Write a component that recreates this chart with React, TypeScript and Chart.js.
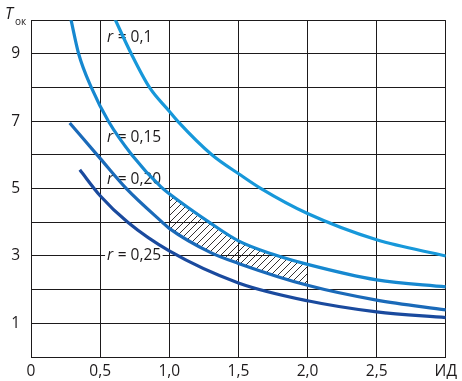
import React, { useEffect, useRef } from 'react';
import { Chart, registerables } from 'chart.js';

Chart.register(...registerables);

// ---- data ----
const xTickLabels = ['0', '0,5', '1,0', '1,5', '2,0', '2,5', 'ИД'];
const yTickLabels = ['', '1', '', '3', '', '5', '', '7', '', '9', ''];
const seriesNames = ['r = 0,1', 'r = 0,15', 'r = 0,20', 'r = 0,25'];
const seriesColors = ['#1798da', '#1688d0', '#1a6ab9', '#1a4a9e'];

const r010X = [0.6, 0.726, 0.858, 1.0, 1.062, 1.31, 1.51, 1.664, 2.0, 2.5, 3.0];
const r010T = [10.1, 9.0, 8.0, 7.3, 7.0, 6.0, 5.42, 5.0, 4.26, 3.48, 3.0];
const r015X = [0.285, 0.345, 0.437, 0.56, 0.73, 0.94, 1.0, 1.29, 1.5, 1.75, 2.0, 2.5, 3.0];
const r015T = [10.1, 9.0, 8.0, 7.0, 6.0, 5.05, 4.85, 4.0, 3.45, 3.05, 2.75, 2.29, 2.08];
const r020X = [0.28, 0.5, 0.69, 0.95, 1.0, 1.3, 1.5, 2.0, 2.5, 3.0];
const r020T = [6.95, 5.9, 5.0, 4.0, 3.82, 3.1, 2.78, 2.13, 1.69, 1.4];
const r025X = [0.353, 0.5, 0.7, 1.0, 1.5, 2.0, 2.5, 3.0];
const r025T = [5.56, 4.79, 4.0, 3.15, 2.2, 1.67, 1.34, 1.17];

// hatched zone between r = 0,15 and r = 0,20
const hatchRange = [1.0, 2.0];
// label anchors (data coords: left x, centre T)
const labelX = [0.55, 0.55, 0.55, 0.55];
const labelT = [9.5, 6.53, 5.27, 3.0];

const FONT = '"Open Sans", "Noto Sans", sans-serif';
const INK = '#1d1a1b';

const pts = (xs: number[], ts: number[]) => xs.map((x, i) => ({ x, y: ts[i] }));
const inRange = (p: { x: number }) => p.x >= hatchRange[0] && p.x <= hatchRange[1];

function makeHatch(): CanvasPattern | string {
  const c = document.createElement('canvas');
  const s = 7;
  c.width = s;
  c.height = s;
  const g = c.getContext('2d');
  if (!g) return 'rgba(0,0,0,0.2)';
  g.strokeStyle = INK;
  g.lineWidth = 0.9;
  g.beginPath();
  g.moveTo(0, s);
  g.lineTo(s, 0);
  g.moveTo(-1, 1);
  g.lineTo(1, -1);
  g.moveTo(s - 1, s + 1);
  g.lineTo(s + 1, s - 1);
  g.stroke();
  const p = g.createPattern(c, 'repeat');
  return p || 'rgba(0,0,0,0.2)';
}

const annotPlugin = {
  id: 'annot',
  beforeDatasetsDraw(chart: any) {
    const { ctx, scales } = chart;
    const xs = scales.x;
    const ys = scales.y;
    ctx.save();
    seriesNames.forEach((name, i) => {
      const px = xs.getPixelForValue(labelX[i]);
      const py = ys.getPixelForValue(labelT[i]);
      const head = name.slice(0, 1);
      const tail = name.slice(1);
      ctx.font = `italic 15.5px ${FONT}`;
      const w1 = ctx.measureText(head).width;
      ctx.font = `15.5px ${FONT}`;
      const w2 = ctx.measureText(tail).width;
      ctx.fillStyle = '#ffffff';
      ctx.fillRect(px - 2, py - 8, w1 + w2 + 4, 16);
      ctx.fillStyle = INK;
      ctx.textBaseline = 'middle';
      ctx.textAlign = 'left';
      ctx.font = `italic 15.5px ${FONT}`;
      ctx.fillText(head, px, py);
      ctx.font = `15.5px ${FONT}`;
      ctx.fillText(tail, px + w1 + 0.5, py);
    });
    ctx.restore();
  },
  afterDraw(chart: any) {
    const { ctx } = chart;
    ctx.save();
    ctx.fillStyle = INK;
    ctx.textBaseline = 'alphabetic';
    ctx.textAlign = 'left';
    ctx.font = `italic 16px ${FONT}`;
    ctx.fillText('T', 5, 19);
    ctx.font = `10px ${FONT}`;
    ctx.fillText('ок', 15, 25);
    ctx.restore();
  },
};

export default function App() {
  const ref = useRef<HTMLCanvasElement | null>(null);

  useEffect(() => {
    document.body.style.margin = '0';
    const canvas = ref.current;
    if (!canvas) return;
    const hatch = makeHatch();
    const curves = [pts(r010X, r010T), pts(r015X, r015T), pts(r020X, r020T), pts(r025X, r025T)];
    const lineDs = curves.map((data, i) => ({
      label: seriesNames[i],
      data,
      borderColor: seriesColors[i],
      borderWidth: 3.2,
      pointRadius: 0,
      fill: false,
      cubicInterpolationMode: 'monotone' as const,
    }));
    const chart = new Chart(canvas, {
      type: 'line',
      data: {
        datasets: [
          ...lineDs,
          {
            label: 'hatchTop',
            data: curves[1].filter(inRange),
            borderWidth: 0,
            borderColor: 'rgba(0,0,0,0)',
            pointRadius: 0,
            backgroundColor: hatch as any,
            fill: '+1',
            cubicInterpolationMode: 'monotone' as const,
          },
          {
            label: 'hatchBottom',
            data: curves[2].filter(inRange),
            borderWidth: 0,
            borderColor: 'rgba(0,0,0,0)',
            pointRadius: 0,
            fill: false,
            cubicInterpolationMode: 'monotone' as const,
          },
        ],
      },
      options: {
        animation: false,
        responsive: false,
        parsing: false as any,
        layout: { padding: { top: 12, right: 15, left: 0, bottom: 0 } },
        plugins: {
          legend: { display: false },
          tooltip: { enabled: false },
        },
        scales: {
          x: {
            type: 'linear',
            min: 0,
            max: 3,
            afterFit: (s: any) => {
              s.height = 24;
            },
            afterBuildTicks: (s: any) => {
              s.ticks = xTickLabels.map((_, i) => ({ value: i * 0.5 }));
            },
            ticks: {
              callback: (_v: any, i: number) => xTickLabels[i],
              font: { family: FONT, size: 15.5 },
              color: INK,
              padding: 5,
              maxRotation: 0,
              autoSkip: false,
            },
            grid: { color: INK, lineWidth: 1, drawTicks: false },
            border: { color: INK, width: 1 },
          },
          y: {
            type: 'linear',
            min: 0,
            max: 10,
            afterFit: (s: any) => {
              s.width = 31;
            },
            afterBuildTicks: (s: any) => {
              s.ticks = yTickLabels.map((_, i) => ({ value: i }));
            },
            ticks: {
              callback: (_v: any, i: number) => yTickLabels[i],
              font: { family: FONT, size: 15.5 },
              color: INK,
              padding: 11,
              autoSkip: false,
            },
            grid: { color: INK, lineWidth: 1, drawTicks: false },
            border: { color: INK, width: 1 },
          },
        },
      },
      plugins: [annotPlugin],
    });
    return () => chart.destroy();
  }, []);

  return (
    <div style={{ width: 462, height: 381 }}>
      <canvas ref={ref} width={462} height={381} style={{ display: 'block' }} />
    </div>
  );
}
